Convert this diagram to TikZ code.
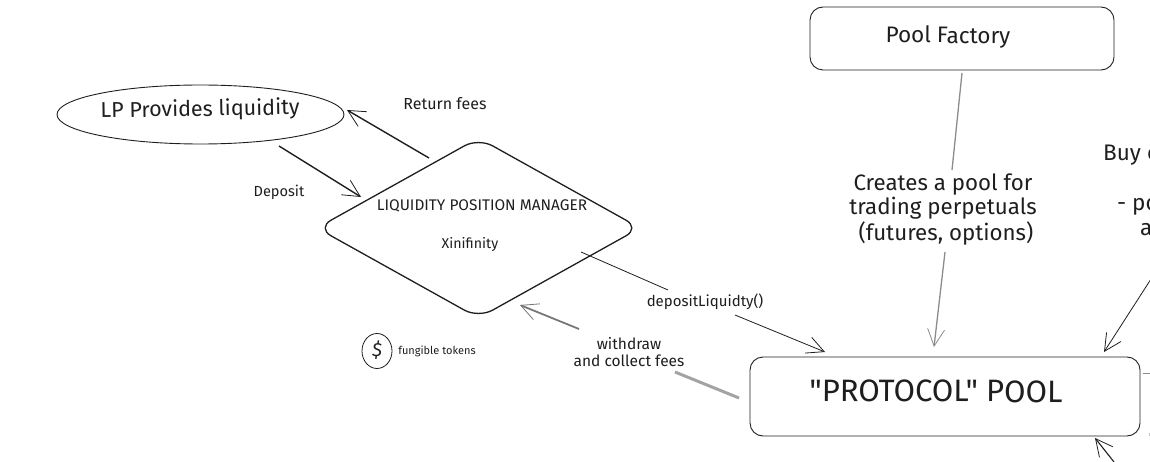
\documentclass[tikz,border=0pt]{standalone}
\usepackage{fontspec}
\setmainfont{Fira Sans}
\newfontfamily\plainfont{Fira Sans}
\usetikzlibrary{arrows.meta,shapes.geometric}
\definecolor{ink}{HTML}{1E1E1E}
\definecolor{greyink}{HTML}{8C8C8C}
\tikzset{
  x=1pt,y=-1pt,
  sketchbox/.style={draw=ink,line width=0.9pt,rounded corners=13pt,inner sep=0pt,text=ink},
  label/.style={text=ink,inner sep=0pt,align=center,font=\fontsize{#1}{#1}\selectfont},
  label/.default=14,
  openhead/.style={-{Straight Barb[length=17pt,width=17pt,line width=0.8pt]}},
  darkline/.style={draw=ink,line width=1.4pt,openhead},
  thinline/.style={draw=ink,line width=0.8pt},
  greyline/.style={draw=greyink,line width=1.3pt},
}
\begin{document}
\begin{tikzpicture}
\useasboundingbox (0,0) rectangle (1150,462);
\clip (0,0) rectangle (1150,462);
% boxes
\node[sketchbox,minimum width=304pt,minimum height=63pt] (factory) at (962,38.5) {};
\node[label=22.5,rotate=-0.5] (factorytext) at (948,37) {Pool Factory};
\node[sketchbox,minimum width=390pt,minimum height=79pt] (pool) at (945,396.5) {};
\node[label=31,rotate=-0.3] (pooltext) at (936,391) {\plainfont"PROTOCOL" POOL};
\node[draw=ink,line width=0.9pt,ellipse,minimum width=287pt,minimum height=59pt,inner sep=0pt] (lp) at (200.5,114.5) {};
\node[label=21.5,rotate=1] (lptext) at (200,110) {LP Provides liquidity};
% diamond
\draw[draw=ink,line width=1.3pt,rounded corners=16pt] (478.5,138) -- (640,228) -- (478.5,318) -- (317,228) -- cycle;
\coordinate (diamondc) at (478,228);
\node[label=15.4] (lpm) at (482,206) {LIQUIDITY POSITION MANAGER};
\node[label=14.2] (xin) at (470,244) {Xinifinity};
% labels
\node[label=16] (returnfees) at (445,104) {Return fees};
\node[label=14.6] (deposit) at (279,192) {Deposit};
\node[label=22.3] (creates) at (943,209.5) {Creates a pool for\\[2pt]trading perpetuals\\[2pt]\ (futures, options)};
\node[label=15] (depliq) at (705,302) {depositLiquidty()};
\node[label=15.5] (withdraw) at (629,352) {withdraw\\[2pt]and collect fees};
\node[label=11] (fungible) at (437,351) {fungible tokens};
\node[draw=ink,line width=0.8pt,ellipse,minimum width=30pt,minimum height=35pt,inner sep=0pt] (dollar) at (377,351) {};
\node[label=19] (dollartext) at (377,350) {\textit{\$}};
% text that the reference's right edge cuts off
\node[label=22.5,anchor=west] (buy) at (1103,155) {Buy o};
\node[label=22.5,anchor=west] (po) at (1117,207) {- po};
\node[label=22.5,anchor=west] (aa) at (1140,230) {a};
% connector ends
\coordinate (a1) at (279,146); \coordinate (a2) at (361,197);
\coordinate (b1) at (429,158); \coordinate (b2) at (347,110);
\coordinate (c1) at (962,73);  \coordinate (c2) at (952,170);
\coordinate (c3) at (945,252); \coordinate (c4) at (934,347);
\coordinate (d1) at (581,252); \coordinate (d2) at (668,290);
\coordinate (d3) at (735,315); \coordinate (d4) at (825,352);
\coordinate (e1) at (739,398); \coordinate (e2) at (675,372);
\coordinate (e3) at (579,329); \coordinate (e4) at (520,305);
\coordinate (f1) at (1151,279); \coordinate (f2) at (1104,352);
\coordinate (g1) at (1114,462); \coordinate (g2) at (1095,438);
\coordinate (h1) at (1143,373); \coordinate (h2) at (1151,373);
\coordinate (i1) at (1149,433); \coordinate (i2) at (1149,436);
% connectors
\draw[darkline] (a1) -- (a2);
\draw[darkline] (b1) -- (b2);
\draw[greyline] (c1) -- (c2);
\draw[greyline,openhead] (c3) -- (c4);
\draw[thinline] (d1) -- (d2);
\draw[thinline,openhead] (d3) -- (d4);
\draw[greyline,line width=3pt,draw=greyink!80] (e1) -- (e2);
\draw[greyline,line width=1.8pt,draw=greyink!85!black,openhead] (e3) -- (e4);
\draw[thinline,openhead] (f1) -- (f2);
\draw[thinline,line width=1.1pt,openhead] (g1) -- (g2);
\draw[greyline,line width=0.8pt] (h1) -- (h2);
\draw[greyline,line width=0.6pt,draw=greyink!50] (i1) -- (i2);
\end{tikzpicture}
\end{document}
